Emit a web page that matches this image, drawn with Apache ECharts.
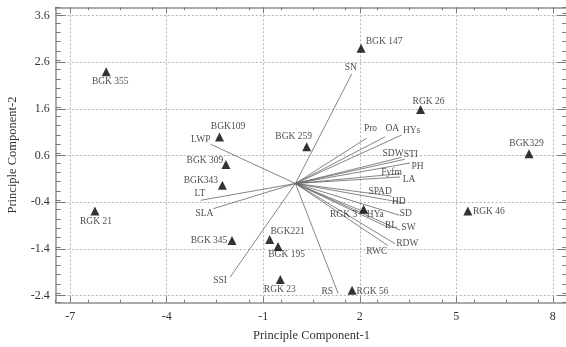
<!DOCTYPE html>
<html>
<head>
<meta charset="utf-8">
<script src="https://cdn.jsdelivr.net/npm/echarts@6/dist/echarts.min.js"></script>
<style>
html,body{margin:0;padding:0;background:#fff;}
#chart{width:566px;height:347px;}
</style>
</head>
<body>
<div id="chart"></div>
<script>
// ---- data ----
const genotypes = ['BGK 355','RGK 21','BGK 147','RGK 26','BGK329','BGK109','BGK 259','BGK 309','BGK343','BGK 345','BGK221','BGK 195','RGK 23','RGK 56','RGK 3','RGK 46'];
const genoPC1 = [-5.88,-6.23,2.04,3.89,7.26,-2.36,0.35,-2.16,-2.27,-1.97,-0.80,-0.54,-0.47,1.76,2.12,5.36];
const genoPC2 = [2.40,-0.59,2.90,1.59,0.64,1.00,0.79,0.41,-0.04,-1.22,-1.20,-1.35,-2.06,-2.29,-0.55,-0.59];

const traits = ['SN','LWP','LT','SLA','SSI','RS','Pro','OA','HYs','SDW','STI','PH','Fyfm','LA','SPAD','HD','SD','HYa','RL','SW','RDW','RWC'];
const traitPC1 = [1.75,-2.63,-2.94,-2.55,-2.03,1.33,2.21,2.78,3.30,3.30,3.40,3.56,3.25,3.25,2.99,3.40,3.23,2.25,2.94,3.25,3.09,2.87];
const traitPC2 = [2.35,0.84,-0.36,-0.54,-2.01,-2.36,0.97,1.00,1.04,0.56,0.52,0.44,0.21,0.14,-0.27,-0.42,-0.68,-0.64,-0.96,-1.00,-1.29,-1.33];

const xTicks = [-7,-4,-1,2,5,8];
const yTicks = [-2.4,-1.4,-0.4,0.6,1.6,2.6,3.6];

// ---- label layout (style only) ----
const genoLabelOffset = {
  'BGK 355':[4,10],'RGK 21':[1,10.5],'BGK 147':[23,-6.5],'RGK 26':[8,-8],'BGK329':[-2.5,-10],
  'BGK109':[8.5,-10.5],'BGK 259':[-13,-10],'BGK 309':[-21,-3.5],'BGK343':[-21.5,-4.5],
  'BGK 345':[-23,0],'BGK221':[18,-7.5],'BGK 195':[8.5,8],'RGK 23':[-0.5,10],
  'RGK 56':[20.5,1.5],'RGK 3':[-20,5],'RGK 46':[21,0]
};
const traitLabelOffset = {
  'SN':[-1,-6],'LWP':[-10,-4.5],'LT':[-1,-7],'SLA':[-9,4.5],'SSI':[-10,3.5],'RS':[-11,-2],
  'Pro':[4,-10],'OA':[7.5,-8.5],'HYs':[10,-5],'SDW':[-8.5,-4],'STI':[6,-4.5],'PH':[7.5,3.5],
  'Fyfm':[-8.5,-1.5],'LA':[9,2.5],'SPAD':[-11.5,-4.5],'HD':[-6,-2],'SD':[6.5,-1.5],
  'HYa':[7.5,1.5],'RL':[1,-3],'SW':[8.5,-3],'RDW':[12.5,0],'RWC':[-11,6]
};

const XMIN = -7.45, XMAX = 8.45, YMIN = -2.557, YMAX = 3.78;
const FONT = 'Liberation Serif';
const axisLineStyle = {color:'#8f8f8f', width:1.5};
const tickStyle = {color:'#7a7a7a', width:1};

function xAxisMain(pos, labels){
  return {
    type:'value', min:XMIN, max:XMAX, position:pos,
    axisLine:{show:true, onZero:false, lineStyle:axisLineStyle},
    axisTick:{show:true, inside:true, length:6, customValues:xTicks, lineStyle:tickStyle},
    axisLabel:{show:labels, customValues:xTicks, fontFamily:FONT, fontSize:12, color:'#333', margin:8},
    splitLine:{show:labels, lineStyle:{type:[2,2], color:'#b4b4b4', width:1}},
    name: labels ? 'Principle Component-1' : '',
    nameLocation:'middle', nameGap:27,
    nameTextStyle:{fontFamily:FONT, fontSize:12.5, color:'#333'}
  };
}
function xAxisMinor(pos){
  return {
    type:'value', min:XMIN, max:XMAX, interval:1, position:pos,
    axisLine:{show:false, onZero:false},
    axisTick:{show:true, inside:true, length:3, lineStyle:tickStyle},
    axisLabel:{show:false}, splitLine:{show:false}
  };
}
function yAxisMain(pos, labels){
  return {
    type:'value', min:YMIN, max:YMAX, position:pos,
    axisLine:{show:true, onZero:false, lineStyle:axisLineStyle},
    axisTick:{show:true, inside:true, length:10, customValues:yTicks, lineStyle:tickStyle},
    axisLabel:{show:labels, customValues:yTicks, fontFamily:FONT, fontSize:12, color:'#333', margin:6,
      formatter: v => v.toFixed(1)},
    splitLine:{show:labels, lineStyle:{type:[2,2], color:'#b4b4b4', width:1}},
    name: labels ? 'Principle Component-2' : '',
    nameLocation:'middle', nameGap:36,
    nameTextStyle:{fontFamily:FONT, fontSize:12.5, color:'#333'}
  };
}
function yAxisMinor(pos){
  return {
    type:'value', min:YMIN, max:YMAX, interval:0.2, position:pos,
    axisLine:{show:false, onZero:false},
    axisTick:{show:true, inside:true, length:5, lineStyle:tickStyle},
    axisLabel:{show:false}, splitLine:{show:false}
  };
}

const genoData = genotypes.map((n,i)=>({
  name:n, value:[genoPC1[i], genoPC2[i]],
  label:{offset:genoLabelOffset[n]}
}));
const vecData = traits.map((n,i)=>({coords:[[0,0],[traitPC1[i], traitPC2[i]]]}));
const vecEnds = traits.map((n,i)=>({
  name:n, value:[traitPC1[i], traitPC2[i]],
  label:{offset:traitLabelOffset[n]}
}));

const chart = echarts.init(document.getElementById('chart'), null, {renderer:'canvas'});
chart.setOption({
  animation:false,
  backgroundColor:'#fff',
  grid:{left:55.7, top:7.3, right:-1.3, bottom:44.3, containLabel:false, outerBoundsMode:'none'},
  xAxis:[xAxisMain('bottom',true), xAxisMinor('bottom'), xAxisMain('top',false), xAxisMinor('top')],
  yAxis:[yAxisMain('left',true), yAxisMinor('left'), yAxisMain('right',false), yAxisMinor('right')],
  series:[
    {
      type:'lines', coordinateSystem:'cartesian2d', xAxisIndex:0, yAxisIndex:0,
      polyline:false, silent:true,
      lineStyle:{color:'#666', width:0.8, opacity:1},
      data:vecData, z:2
    },
    {
      type:'scatter', xAxisIndex:0, yAxisIndex:0, silent:true,
      symbol:'circle', symbolSize:0.1, itemStyle:{color:'rgba(0,0,0,0)'},
      label:{show:true, position:'inside', formatter:'{b}', fontFamily:FONT, fontSize:9.5, color:'#222'},
      data:vecEnds, z:3
    },
    {
      type:'scatter', xAxisIndex:0, yAxisIndex:0, silent:true,
      symbol:'triangle', symbolSize:[9,9], itemStyle:{color:'#000'},
      label:{show:true, position:'inside', formatter:'{b}', fontFamily:FONT, fontSize:9.5, color:'#222'},
      data:genoData, z:4
    }
  ]
});
</script>
</body>
</html>
